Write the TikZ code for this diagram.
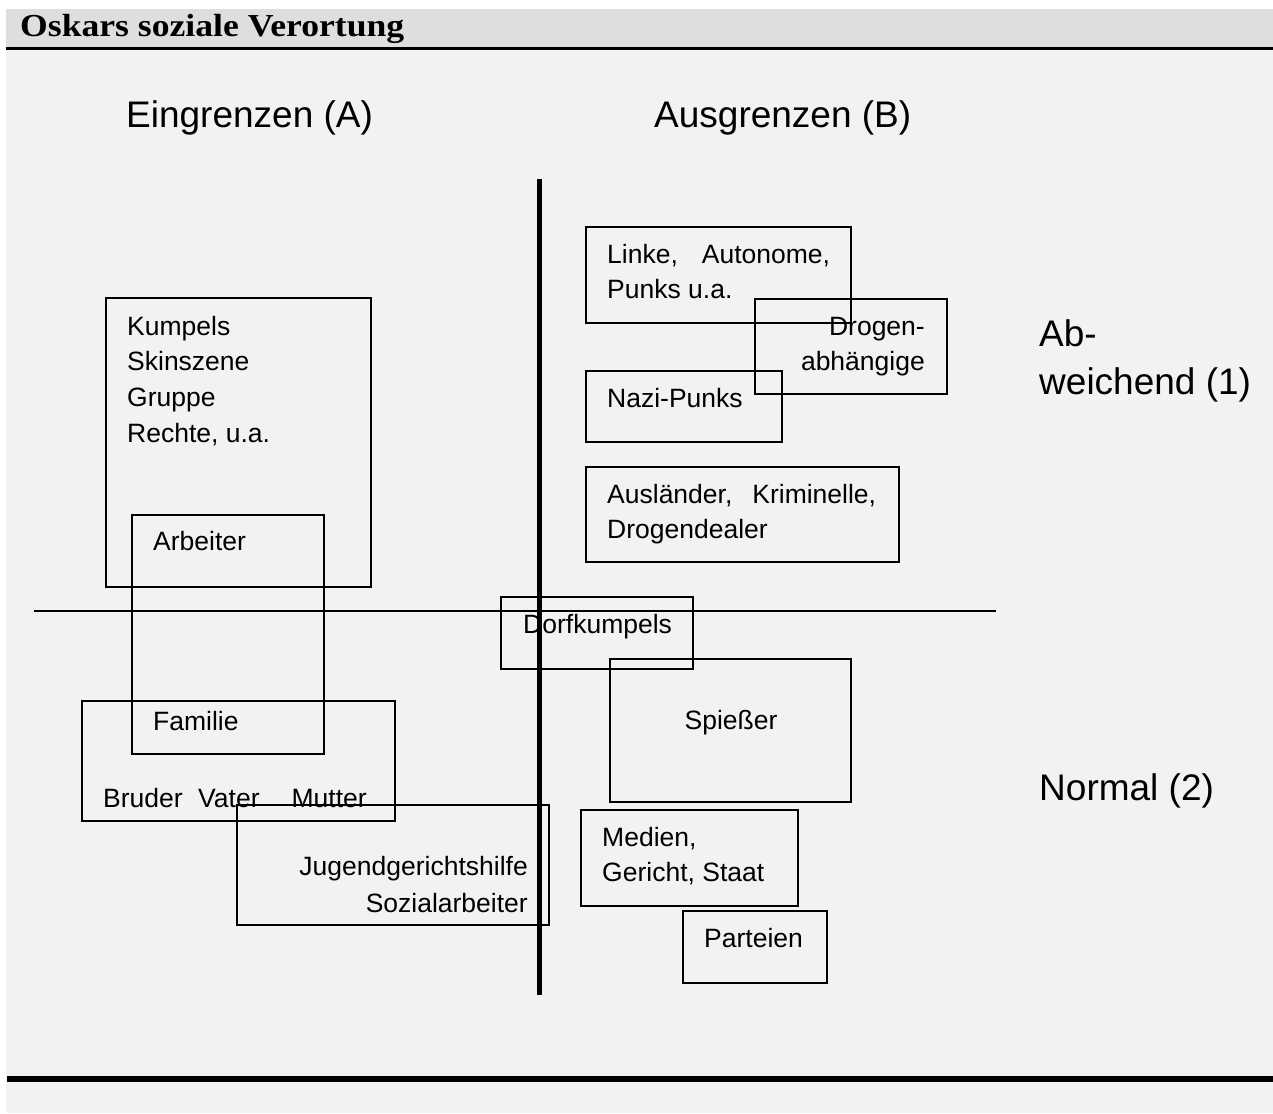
\documentclass[tikz,border=0pt]{standalone}
\usepackage{fontspec}
\setmainfont{Liberation Sans}
\newfontfamily\headserif{Liberation Serif}
\usetikzlibrary{fit}
\definecolor{headgray}{HTML}{DEDEDE}
\definecolor{pagegray}{HTML}{F2F2F2}
\tikzset{
  box/.style={draw=black, line width=2pt, inner sep=0pt, fill=none},
  lbl/.style={inner sep=0pt, font=\fontsize{26.5}{36}\selectfont},
  biglbl/.style={inner sep=0pt, font=\fontsize{37}{46}\selectfont},
  axis/.style={draw=black},
}
\begin{document}
\begin{tikzpicture}[x=1pt,y=-1pt]
\useasboundingbox (0,0) rectangle (1273,1113);
% page background and title bar
\fill[white] (0,0) rectangle (1273,1113);
\fill[pagegray] (6,50) rectangle (1273,1113);
\fill[headgray] (6,9) rectangle (1273,48);
\fill[black] (6,47.5) rectangle (1273,50);
\fill[black] (7,1076) rectangle (1273,1082);
\node[inner sep=0pt, anchor=base west] (title) at (20,37)
  {\resizebox{384pt}{\height}{\headserif\bfseries\fontsize{32}{36}\selectfont Oskars soziale Verortung}};

% column and row headings
\node[biglbl, anchor=base west] (colA) at (126,128) {Eingrenzen (A)};
\node[biglbl, anchor=base west] (colB) at (654,128) {Ausgrenzen (B)};
\node[biglbl, anchor=base west] (row1a) at (1039,346) {Ab-};
\node[biglbl, anchor=base west] (row1b) at (1039,394) {weichend (1)};
\node[biglbl, anchor=base west] (row2) at (1039,800) {Normal (2)};

% axes
\coordinate (vtop) at (539,179);
\coordinate (vbot) at (539,995);
\coordinate (hleft) at (34,611);
\coordinate (hright) at (996,611);
\draw[axis, line width=5pt] (vtop) -- (vbot);
\draw[axis, line width=2pt] (hleft) -- (hright);

% left half
\node[box, fit={(106,298) (371,587)}] (kumpels) {};
\node[lbl, anchor=base west] (kumpelsA) at (127,335) {Kumpels};
\node[lbl, anchor=base west] (kumpelsB) at (127,370) {Skinszene};
\node[lbl, anchor=base west] (kumpelsC) at (127,406) {Gruppe};
\node[lbl, anchor=base west] (kumpelsD) at (127,442) {Rechte, u.a.};

\node[box, fit={(132,515) (324,754)}] (arbeiter) {};
\node[lbl, anchor=base west] (arbeiterT) at (153,550) {Arbeiter};

\node[box, fit={(82,701) (395,821)}] (familie) {};
\node[lbl, anchor=base west] (familieT) at (153,730) {Familie};
\node[lbl, anchor=base west] (familieM) at (103,807) {Bruder\hspace{15.5pt}Vater\hspace{32pt}Mutter};

\node[box, fit={(237,805) (549,925)}] (jgh) {};
\node[lbl, anchor=base east] (jghA) at (528,875) {Jugendgerichtshilfe};
\node[lbl, anchor=base east] (jghB) at (528,912) {Sozialarbeiter};

% right half
\node[box, fit={(586,227) (851,323)}] (linke) {};
\node[lbl, anchor=base west] (linkeA) at (607,263) {Linke,\hspace{24pt}Autonome,};
\node[lbl, anchor=base west] (linkeB) at (607,298) {Punks u.a.};

\node[box, fit={(755,299) (947,394)}] (drogen) {};
\node[lbl, anchor=base east] (drogenA) at (925,335) {Drogen-};
\node[lbl, anchor=base east] (drogenB) at (925,370) {abhängige};

\node[box, fit={(586,371) (782,442)}] (nazi) {};
\node[lbl, anchor=base west] (naziT) at (607,407) {Nazi-Punks};

\node[box, fit={(586,467) (899,562)}] (auslaender) {};
\node[lbl, anchor=base west] (auslaenderA) at (607,503) {Ausländer,\hspace{20pt}Kriminelle,};
\node[lbl, anchor=base west] (auslaenderB) at (607,538) {Drogendealer};

\node[box, fit={(501,597) (693,669)}] (dorf) {};
\node[lbl, anchor=base west] (dorfT) at (523,633) {Dorfkumpels};

\node[box, fit={(610,659) (851,802)}] (spiesser) {};
\node[lbl, anchor=base] (spiesserT) at (731,729) {Spießer};

\node[box, fit={(581,810) (798,906)}] (medien) {};
\node[lbl, anchor=base west] (medienA) at (602,846) {Medien,};
\node[lbl, anchor=base west] (medienB) at (602,881) {Gericht, Staat};

\node[box, fit={(683,911) (827,983)}] (parteien) {};
\node[lbl, anchor=base west] (parteienT) at (704,947) {Parteien};
\end{tikzpicture}
\end{document}
